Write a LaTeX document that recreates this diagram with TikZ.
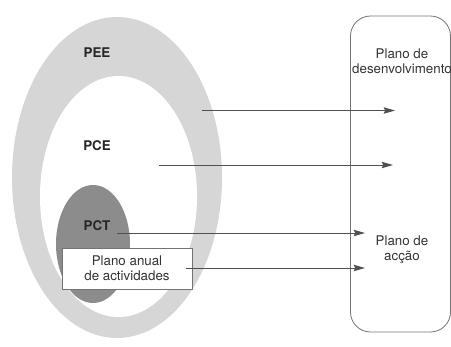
\documentclass[tikz,border=0pt]{standalone}
\usepackage{fontspec}
\setmainfont{TeX Gyre Heros}
\usepackage{tikz}
\usetikzlibrary{arrows.meta}
\usepackage{xcolor}

\definecolor{bandgray}{RGB}{214,214,214}
\definecolor{darkgray}{RGB}{140,140,140}
\definecolor{linegray}{RGB}{80,80,80}

\tikzset{
  lbl/.style={inner sep=0.75pt,font=\fontsize{10}{11.5}\selectfont\bfseries,text=black!85},
  txt/.style={inner sep=0.75pt,align=center,font=\fontsize{10}{11.5}\selectfont,text=black!80},
  arr/.style={draw=linegray,line width=0.7pt,-{Stealth[length=8.5pt,width=4.8pt,inset=1.2pt]}}
}

\begin{document}
\begin{tikzpicture}[x=0.75pt,y=0.75pt,yscale=-1,xscale=1]
\useasboundingbox (0,0) rectangle (451,347);

%Shape: Ellipse [PEE]
\fill [bandgray] (117,177.5) ellipse [x radius=105,y radius=160.5];
%Shape: Ellipse [PCE]
\fill [white] (118.5,196.5) ellipse [x radius=78.5,y radius=120.5];
%Shape: Ellipse [PCT]
\fill [darkgray] (93,244) ellipse [x radius=37,y radius=59];
%Shape: Rounded Rectangle
\draw [draw=black!55,line width=0.6pt,rounded corners=15pt] (350.5,16) rectangle (450.5,332);

% Text Node
\draw (97,52.5) node [lbl] (pee) {PEE};
% Text Node
\draw (97,146) node [lbl] (pce) {PCE};
% Text Node
\draw (97,226) node [lbl] (pct) {PCT};
% Text Node
\draw (127,268.5) node [txt,draw=black!55,fill=white,line width=0.6pt,minimum width=130*0.75pt,minimum height=41*0.75pt] (anual) {Plano anual\\de actividades};
% Text Node
\draw (402,61) node [txt] (desenv) {Plano de\\desenvolvimento};
% Text Node
\draw (402,250) node [txt] (accao) {Plano de\\acção};

%Straight Lines
\coordinate (s1) at (202,110.5);  \coordinate (e1) at (395,110.5);
\coordinate (s2) at (159,165);    \coordinate (e2) at (393,165);
\coordinate (s3) at (117,233);    \coordinate (e3) at (365,233);
\coordinate (s4) at (186,268);    \coordinate (e4) at (365,268);
\draw [arr] (s1) -- (e1);
\draw [arr] (s2) -- (e2);
\draw [arr] (s3) -- (e3);
\draw [arr] (s4) -- (e4);

\end{tikzpicture}
\end{document}
